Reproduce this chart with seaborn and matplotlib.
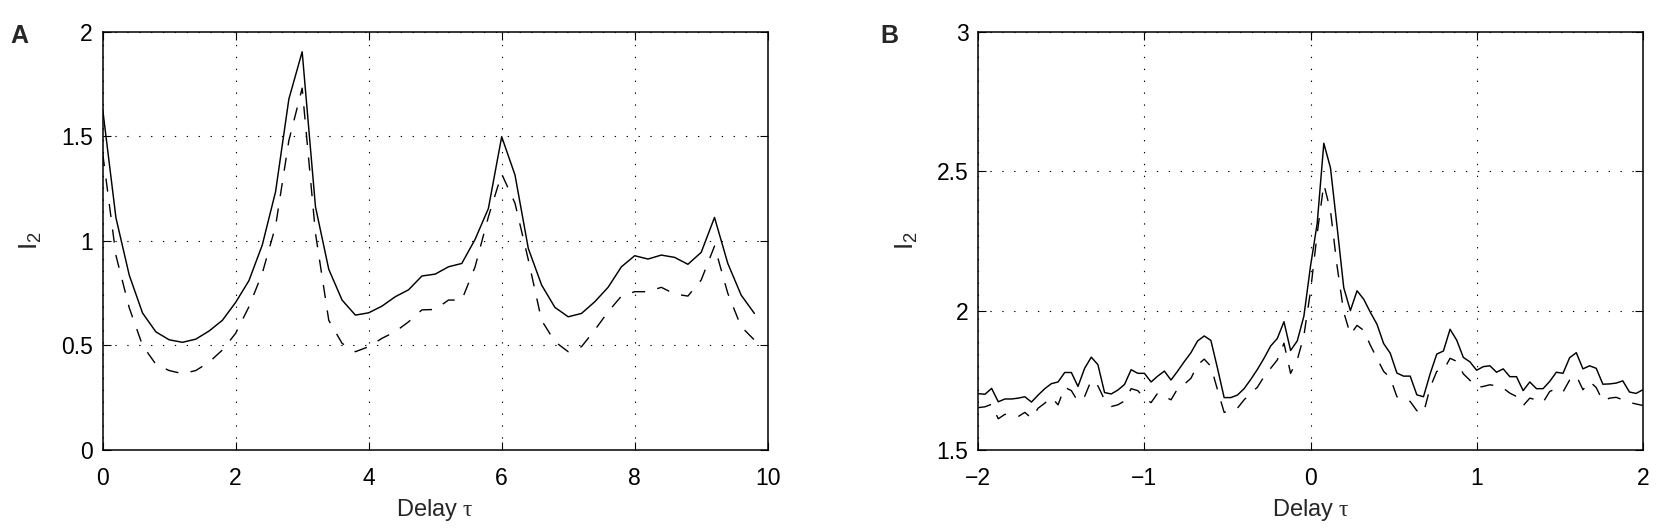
import numpy as np
import pandas as pd
import matplotlib
matplotlib.use("Agg")
import matplotlib.pyplot as plt
import seaborn as sns

# ---- panel A data (delay 0..9.8, step 0.2) ----
delay_a = np.round(np.arange(0, 9.81, 0.2), 2)
solid_a = [1.63, 1.11, 0.836, 0.655, 0.565, 0.527, 0.515, 0.53, 0.569, 0.62,
           0.706, 0.81, 0.98, 1.235, 1.678, 1.904, 1.163, 0.864, 0.717, 0.645,
           0.656, 0.688, 0.733, 0.766, 0.832, 0.841, 0.876, 0.892, 1.007, 1.155,
           1.498, 1.315, 0.964, 0.789, 0.682, 0.637, 0.653, 0.709, 0.778, 0.876,
           0.929, 0.913, 0.932, 0.921, 0.888, 0.945, 1.112, 0.892, 0.741, 0.653]
dashed_a = [1.42, 0.93, 0.68, 0.50, 0.41, 0.38, 0.365, 0.38, 0.42, 0.478,
            0.558, 0.685, 0.845, 1.07, 1.48, 1.73, 1.036, 0.62, 0.51, 0.47,
            0.494, 0.534, 0.566, 0.613, 0.67, 0.672, 0.717, 0.717, 0.876, 1.115,
            1.32, 1.18, 0.91, 0.62, 0.518, 0.47, 0.494, 0.574, 0.661, 0.736,
            0.757, 0.757, 0.778, 0.746, 0.736, 0.813, 0.975, 0.749, 0.59, 0.526]

# ---- panel B data (delay -2..2, step 0.04) ----
delay_b = np.round(np.linspace(-2, 2, 101), 2)
solid_b = [1.702, 1.700, 1.721, 1.673, 1.683, 1.683, 1.686, 1.691, 1.672, 1.697,
           1.720, 1.738, 1.744, 1.778, 1.778, 1.728, 1.793, 1.833, 1.806, 1.706,
           1.701, 1.715, 1.735, 1.788, 1.775, 1.775, 1.744, 1.765, 1.783, 1.751,
           1.783, 1.817, 1.849, 1.891, 1.909, 1.893, 1.793, 1.688, 1.688, 1.697,
           1.720, 1.753, 1.789, 1.829, 1.873, 1.900, 1.960, 1.857, 1.891, 1.980,
           2.160, 2.312, 2.600, 2.512, 2.300, 2.082, 2.000, 2.071, 2.041, 1.994,
           1.951, 1.882, 1.847, 1.776, 1.765, 1.765, 1.698, 1.691, 1.773, 1.844,
           1.855, 1.933, 1.894, 1.832, 1.816, 1.786, 1.799, 1.802, 1.779, 1.791,
           1.763, 1.763, 1.713, 1.744, 1.720, 1.720, 1.746, 1.779, 1.775, 1.831,
           1.849, 1.791, 1.802, 1.793, 1.736, 1.737, 1.740, 1.748, 1.708, 1.703,
           1.716]
dashed_b = [1.652, 1.655, 1.664, 1.612, 1.628, 1.626, 1.620, 1.635, 1.614, 1.650,
            1.668, 1.689, 1.662, 1.725, 1.713, 1.674, 1.692, 1.750, 1.730, 1.680,
            1.656, 1.662, 1.676, 1.720, 1.713, 1.686, 1.670, 1.704, 1.692, 1.680,
            1.720, 1.736, 1.757, 1.805, 1.826, 1.800, 1.716, 1.635, 1.641, 1.650,
            1.680, 1.704, 1.725, 1.763, 1.793, 1.823, 1.883, 1.775, 1.823, 1.910,
            2.070, 2.276, 2.453, 2.359, 2.159, 1.994, 1.914, 1.947, 1.929, 1.876,
            1.829, 1.782, 1.759, 1.691, 1.688, 1.674, 1.641, 1.632, 1.724, 1.782,
            1.785, 1.829, 1.818, 1.773, 1.750, 1.724, 1.728, 1.734, 1.730, 1.722,
            1.704, 1.692, 1.659, 1.686, 1.680, 1.671, 1.710, 1.720, 1.708, 1.751,
            1.767, 1.716, 1.746, 1.724, 1.675, 1.686, 1.689, 1.680, 1.671, 1.665,
            1.660]

df_a = pd.DataFrame({"delay": delay_a, "solid": solid_a, "dashed": dashed_a})
df_b = pd.DataFrame({"delay": delay_b, "solid": solid_b, "dashed": dashed_b})

sns.set_style("ticks")
plt.rcParams["font.family"] = ["Liberation Sans", "DejaVu Sans"]
plt.rcParams["mathtext.fontset"] = "custom"
plt.rcParams["mathtext.rm"] = "Liberation Sans"
plt.rcParams["mathtext.it"] = "Liberation Serif"
plt.rcParams["mathtext.default"] = "regular"

fig = plt.figure(figsize=(16.61, 5.31), dpi=100)
ax_a = fig.add_axes([0.0618, 0.1525, 0.4004, 0.7878])
ax_b = fig.add_axes([0.589, 0.1525, 0.400, 0.7878])


def draw(ax, df, xlim, ylim, xticks, yticks, xticklabels, yticklabels):
    sns.lineplot(data=df, x="delay", y="solid", ax=ax, color="black",
                 linewidth=1.05, estimator=None)
    sns.lineplot(data=df, x="delay", y="dashed", ax=ax, color="black",
                 linewidth=1.0, estimator=None)
    ax.lines[-1].set_dashes((9.5, 9))
    ax.set_xlim(*xlim)
    ax.set_ylim(*ylim)
    ax.set_xticks(xticks)
    ax.set_xticklabels(xticklabels)
    ax.set_yticks(yticks)
    ax.set_yticklabels(yticklabels)
    ax.grid(True, color="black", linestyle=(0, (1.2, 9.5)), linewidth=0.8)
    for s in ax.spines.values():
        s.set_visible(True)
        s.set_linewidth(1.1)
        s.set_color("black")
    ax.tick_params(direction="in", length=6, width=0.8, top=True, right=True,
                   labelsize=16.5, colors="black")
    ax.tick_params(axis="x", pad=12)
    ax.tick_params(axis="y", pad=7)
    ax.set_xlabel(r"Delay $\mathit{\tau}$", fontsize=17, labelpad=5)
    ax.set_ylabel("I$_2$", fontsize=19)
    ax.yaxis.set_label_coords(-0.088, 0.5)


draw(ax_a, df_a, (0, 10), (0, 2), [0, 2, 4, 6, 8, 10], [0, 0.5, 1, 1.5, 2],
     ["0", "2", "4", "6", "8", "10"], ["0", "0.5", "1", "1.5", "2"])
draw(ax_b, df_b, (-2, 2), (1.5, 3), [-2, -1, 0, 1, 2], [1.5, 2, 2.5, 3],
     ["\u22122", "\u22121", "0", "1", "2"], ["1.5", "2", "2.5", "3"])

fig.text(0.006, 0.919, "A", fontsize=18, fontweight="bold")
fig.text(0.5298, 0.919, "B", fontsize=18, fontweight="bold")

fig.savefig("out.png", dpi=100)
